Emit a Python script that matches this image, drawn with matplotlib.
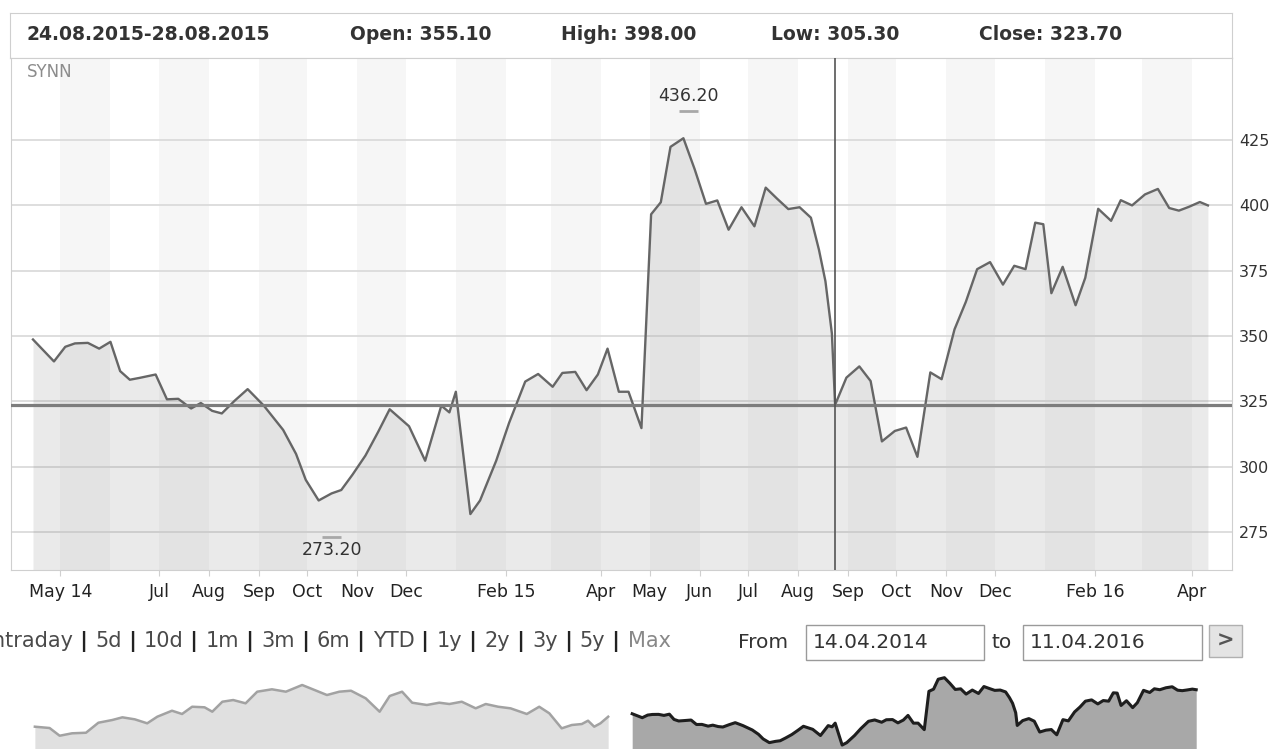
import matplotlib
matplotlib.use("Agg")
import matplotlib.pyplot as plt
import matplotlib.dates as mdates
from matplotlib.patches import Rectangle
import pandas as pd

# weekly closes of SYNN, 14.04.2014 - 11.04.2016
dates = ["2014-04-14", "2014-04-27", "2014-05-04", "2014-05-10", "2014-05-18", "2014-05-25",
         "2014-06-01", "2014-06-07", "2014-06-13", "2014-06-19", "2014-06-29", "2014-07-06",
         "2014-07-13", "2014-07-21", "2014-07-27", "2014-08-03", "2014-08-09", "2014-08-17",
         "2014-08-25", "2014-09-04", "2014-09-16", "2014-09-24", "2014-09-30", "2014-10-08",
         "2014-10-16", "2014-10-22", "2014-10-29", "2014-11-06", "2014-11-14", "2014-11-21",
         "2014-12-03", "2014-12-13", "2014-12-23", "2014-12-28", "2015-01-01", "2015-01-10",
         "2015-01-16", "2015-01-26", "2015-02-03", "2015-02-13", "2015-02-21", "2015-03-02",
         "2015-03-08", "2015-03-16", "2015-03-23", "2015-03-30", "2015-04-05", "2015-04-12",
         "2015-04-18", "2015-04-26", "2015-05-02", "2015-05-08", "2015-05-14", "2015-05-22",
         "2015-05-29", "2015-06-05", "2015-06-12", "2015-06-19", "2015-06-27", "2015-07-05",
         "2015-07-12", "2015-07-19", "2015-07-26", "2015-08-02", "2015-08-09", "2015-08-14",
         "2015-08-18", "2015-08-22", "2015-08-24", "2015-08-31", "2015-09-08", "2015-09-15",
         "2015-09-22", "2015-09-30", "2015-10-07", "2015-10-14", "2015-10-22", "2015-10-29",
         "2015-11-06", "2015-11-13", "2015-11-20", "2015-11-28", "2015-12-06", "2015-12-13",
         "2015-12-20", "2015-12-26", "2015-12-31", "2016-01-05", "2016-01-12", "2016-01-20",
         "2016-01-26", "2016-02-03", "2016-02-11", "2016-02-17", "2016-02-24", "2016-03-03",
         "2016-03-11", "2016-03-18", "2016-03-24", "2016-03-30", "2016-04-06", "2016-04-11"]
closes = [348.7, 340.3, 345.9, 347.2, 347.4, 345.2,
          347.8, 336.6, 333.3, 334.0, 335.3, 325.8,
          326.0, 322.3, 324.4, 321.4, 320.4, 325.3,
          329.7, 323.4, 314.1, 304.9, 295.0, 287.1,
          289.8, 291.1, 297.0, 304.3, 313.5, 322.0,
          315.5, 302.3, 323.4, 320.8, 328.7, 281.9,
          287.1, 302.3, 316.8, 332.6, 335.5, 330.6,
          335.9, 336.3, 329.3, 335.3, 345.2, 328.7,
          328.7, 314.8, 396.6, 401.2, 422.4, 425.7,
          413.8, 400.6, 401.9, 390.7, 399.3, 392.0,
          406.8, 402.6, 398.6, 399.3, 395.3, 383.0,
          371.0, 351.0, 323.7, 334.1, 338.4, 332.8,
          309.7, 313.7, 315.0, 303.8, 336.1, 333.5,
          352.6, 363.1, 375.6, 378.3, 369.7, 376.9,
          375.6, 393.4, 392.8, 366.4, 376.5, 361.8,
          372.3, 398.7, 394.1, 402.0, 400.0, 404.2,
          406.3, 399.0, 398.0, 399.4, 401.3, 400.0]

# older history shown in the navigator (outside the selected range)
history_dates = ["2012-03-04", "2012-03-23", "2012-04-05", "2012-04-21", "2012-05-09", "2012-05-25",
                 "2012-06-12", "2012-06-25", "2012-07-11", "2012-07-27", "2012-08-09", "2012-08-28",
                 "2012-09-10", "2012-09-23", "2012-10-09", "2012-10-19", "2012-11-01", "2012-11-15",
                 "2012-12-01", "2012-12-16", "2013-01-04", "2013-01-22", "2013-02-12", "2013-02-28",
                 "2013-03-16", "2013-04-01", "2013-04-16", "2013-05-05", "2013-05-23", "2013-06-05",
                 "2013-06-21", "2013-07-04", "2013-07-23", "2013-08-08", "2013-08-21", "2013-09-06",
                 "2013-09-24", "2013-10-07", "2013-10-23", "2013-11-08", "2013-11-29", "2013-12-15",
                 "2013-12-28", "2014-01-13", "2014-01-26", "2014-02-08", "2014-02-16", "2014-02-24",
                 "2014-03-04", "2014-03-14"]
history_closes = [321.1, 318.3, 301.8, 307.0, 308.2, 329.6,
                  335.4, 341.1, 336.8, 328.3, 342.4, 355.2,
                  348.2, 363.7, 362.5, 353.1, 374.4, 378.0,
                  371.0, 395.8, 400.9, 395.8, 410.1, 399.4,
                  388.7, 395.8, 397.9, 381.7, 353.1, 386.6,
                  395.8, 372.3, 367.4, 372.3, 369.5, 374.4,
                  360.3, 369.5, 363.7, 360.3, 348.2, 363.7,
                  349.7, 317.6, 324.7, 326.8, 333.9, 321.1,
                  328.3, 342.4]

tick_dates = ["2014-05-01", "2014-07-01", "2014-08-01", "2014-09-01", "2014-10-01", "2014-11-01",
              "2014-12-01", "2015-02-01", "2015-04-01", "2015-05-01", "2015-06-01", "2015-07-01",
              "2015-08-01", "2015-09-01", "2015-10-01", "2015-11-01", "2015-12-01", "2016-02-01",
              "2016-04-01"]
tick_labels = ["May 14", "Jul", "Aug", "Sep", "Oct", "Nov", "Dec", "Feb 15", "Apr", "May", "Jun",
               "Jul", "Aug", "Sep", "Oct", "Nov", "Dec", "Feb 16", "Apr"]
y_ticks = [275, 300, 325, 350, 375, 400, 425]

week_label = "24.08.2015-28.08.2015"
ohlc_names = ["Open", "High", "Low", "Close"]
ohlc_values = [355.10, 398.00, 305.30, 323.70]
cross_date = "2015-08-24"
high_date, high_value = "2015-05-25", 436.20
low_date, low_value = "2014-10-16", 273.20

range_items = ["Intraday", "5d", "10d", "1m", "3m", "6m", "YTD", "1y", "2y", "3y", "5y", "Max"]
range_from, range_to = "14.04.2014", "11.04.2016"

W, H = 1276, 749


def fx(x):
    return x / W


def fy(y):
    return 1 - y / H


def box(x0, y0, x1, y1, **kw):
    fig.add_artist(Rectangle((fx(x0), fy(y1)), fx(x1) - fx(x0), fy(y0) - fy(y1),
                             transform=fig.transFigure, **kw))


plt.rcParams['font.family'] = ['DejaVu Sans']
fig = plt.figure(figsize=(W / 100, H / 100), dpi=100)

d = pd.to_datetime(dates)
hd = pd.to_datetime(history_dates)

# header strip with the hovered week
hdr = fig.add_axes([fx(10), fy(58), fx(1232) - fx(10), fy(13) - fy(58)])
hdr.set_xticks([])
hdr.set_yticks([])
for s in hdr.spines.values():
    s.set_color('#cfcfcf')
fig.text(fx(27), fy(35), week_label, fontsize=13.5, weight='bold', color='#333333', va='center')
for name, val, xp in zip(ohlc_names, ohlc_values, [350, 561, 771, 979]):
    fig.text(fx(xp), fy(35), '%s: %.2f' % (name, val), fontsize=13.5, weight='bold',
             color='#333333', va='center')

# main chart
ax = fig.add_axes([fx(11), fy(570), fx(1232) - fx(11), fy(58) - fy(570)])
ax.set_xlim(pd.Timestamp("2014-03-31 09:00"), pd.Timestamp("2016-04-25 22:00"))
ax.set_ylim(260.5, 456.4)

# alternating month stripes
for m in pd.date_range("2014-05-01", "2016-03-01", freq="2MS"):
    ax.axvspan(m, m + pd.offsets.MonthBegin(1), color='#f6f6f6', lw=0, zorder=0)

ax.fill_between(d, closes, 260.5, color='#808080', alpha=0.16, lw=0, zorder=1)
ax.plot(d, closes, color='#666666', lw=1.7, zorder=4)

# crosshair
ax.axhline(ohlc_values[3], color='#7d7d7d', lw=2.3, zorder=5)
ax.axvline(pd.Timestamp(cross_date), color='#555555', lw=1.2, zorder=5)

# high / low markers
for dt, val, off, va in [(high_date, high_value, 4, 'bottom'), (low_date, low_value, -3, 'top')]:
    t = pd.Timestamp(dt)
    ax.plot([t - pd.Timedelta(days=6), t + pd.Timedelta(days=6)], [val, val],
            color='#a8a8a8', lw=2, zorder=3, solid_capstyle='butt')
    ax.annotate('%.2f' % val, (t, val), xytext=(0, off), textcoords='offset points',
                ha='center', va=va, fontsize=12.5, color='#333333', zorder=6)

ax.text(0.013, 0.972, 'SYNN', transform=ax.transAxes, fontsize=12, color='#8c8c8c', va='center')

ax.set_xticks(pd.to_datetime(tick_dates))
ax.set_xticklabels(tick_labels)
ax.yaxis.tick_right()
ax.set_yticks(y_ticks)
ax.tick_params(axis='x', length=4.5, color='#d0d0d0', pad=5, labelsize=12.5, labelcolor='#222222')
ax.tick_params(axis='y', length=0, pad=5, labelsize=11.5, labelcolor='#333333')
ax.set_axisbelow(True)
ax.grid(axis='y', color='#d8d8d8', lw=1.2)
for s in ax.spines.values():
    s.set_color('#cfcfcf')

# range selector row (first letters run off the left edge, as in the page capture)
renderer = fig.canvas.get_renderer()
x = -14
for i, item in enumerate(range_items):
    col = '#888888' if item == 'Max' else '#4a4a4a'
    t = fig.text(fx(x), fy(641), item, fontsize=15, color=col, va='center')
    x += t.get_window_extent(renderer).width
    if i < len(range_items) - 1:
        s = fig.text(fx(x), fy(641), ' | ', fontsize=15, weight='bold', color='#222222', va='center')
        x += s.get_window_extent(renderer).width

fig.text(fx(738), fy(642), 'From', fontsize=14.5, color='#333333', va='center')
box(806, 625, 984, 660, facecolor='white', edgecolor='#9a9a9a', lw=1)
fig.text(fx(813), fy(643), range_from, fontsize=14.5, color='#333333', va='center')
fig.text(fx(992), fy(642), 'to', fontsize=14.5, color='#333333', va='center')
box(1023, 625, 1202, 660, facecolor='white', edgecolor='#9a9a9a', lw=1)
fig.text(fx(1030), fy(643), range_to, fontsize=14.5, color='#333333', va='center')
box(1209, 625, 1242, 657, facecolor='#e4e4e4', edgecolor='#b0b0b0', lw=1)
fig.text(fx(1225.5), fy(641), '>', fontsize=15, weight='bold', color='#555555', ha='center', va='center')

# navigator
nav = fig.add_axes([0, 0, 1, fy(670)])
nav.set_xlim(pd.Timestamp("2012-01-19"), pd.Timestamp("2016-07-23"))
nav.set_ylim(273.5, 442.1)
nav.axis('off')
nav.fill_between(hd, history_closes, 273.5, color='#e0e0e0', lw=0)
nav.plot(hd, history_closes, color='#a2a2a2', lw=1.8)
nav.fill_between(d, closes, 273.5, color='#a8a8a8', lw=0)
nav.plot(d, closes, color='#1e1e1e', lw=2.2)

fig.savefig('out.png', dpi=100)
